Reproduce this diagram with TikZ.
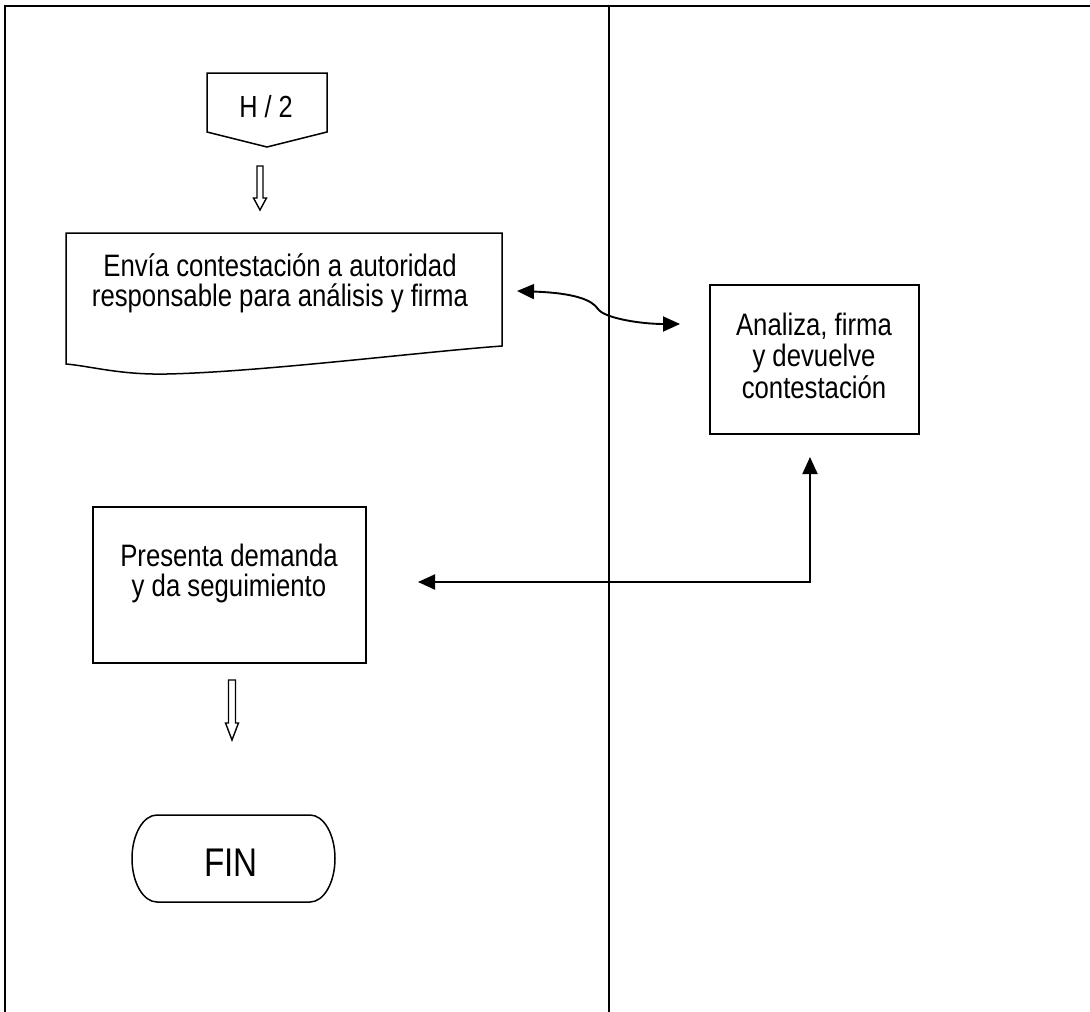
\documentclass[tikz,border=0pt]{standalone}
\usepackage{fontspec}
\setmainfont{Liberation Sans}
\newfontfamily\narrowfont[FakeStretch=0.83]{Liberation Sans}
\usetikzlibrary{arrows.meta}
\begin{document}
\begin{tikzpicture}[x=1pt,y=-1pt,
  frameline/.style={line width=2.2pt},
  boxline/.style={draw, line width=1.5pt},
  boxnode/.style={draw, line width=1.5pt, inner sep=0pt, minimum width=#1},
  txt/.style={font=\narrowfont\fontsize{31}{30}\selectfont, align=center, inner sep=0pt, anchor=base},
  conn/.style={line width=1.9pt, {Triangle[length=17pt,width=15pt]}-{Triangle[length=17pt,width=15pt]}},
  hollow/.style={draw, line width=1.4pt, fill=white}
]
\useasboundingbox (0,0) rectangle (1090,1012);
% frame
\coordinate (ftl) at (5,6);
\coordinate (ftr) at (1090,6);
\coordinate (fbl) at (5,1012);
\coordinate (mtop) at (609,6);
\coordinate (mbot) at (609,1012);
\draw[frameline] (ftr) -- (ftl) -- (fbl);
\draw[frameline] (mtop) -- (mbot);

% off-page connector H/2
\draw[boxline] (207,73) -- (327,73) -- (327,132) -- (267,147) -- (207,132) -- cycle;
\node[txt, font=\narrowfont\fontsize{30.5}{34}\selectfont] (h2) at (266,117) {H / 2};

% hollow arrow 1
\draw[hollow] (257,166) -- (263,166) -- (263,198) -- (266.5,198) -- (260,210) -- (253.5,198) -- (257,198) -- cycle;

% document shape
\draw[boxline] (66,233) -- (502,233) -- (502,346)
  .. controls (420,352) and (260,372) .. (167,374)
  .. controls (120,375) and (90,366) .. (66,364) -- cycle;
\node[txt] (doc) at (280,306) {Envía contestación a autoridad\\responsable para análisis y firma};

% right box
\node[boxnode=209pt, minimum height=149pt] (anabox) at (814.5,359.5) {};
\node[txt, font=\narrowfont\fontsize{31}{31.5}\selectfont] (ana) at (814,398) {Analiza, firma\\y devuelve\\contestación};

% presenta box
\node[boxnode=273pt, minimum height=156pt] (presbox) at (229.5,585) {};
\node[txt] (pres) at (229,596) {Presenta demanda\\y da seguimiento};

% hollow arrow 2
\draw[hollow] (228.5,680) -- (235.5,680) -- (235.5,723) -- (238.5,723) -- (232,740) -- (225.5,723) -- (228.5,723) -- cycle;

% FIN terminal
\draw[boxline] (157,815) -- (310,815) arc[start angle=-90, end angle=90, x radius=25, y radius=43.5]
  -- (157,902) arc[start angle=90, end angle=270, x radius=25, y radius=43.5] -- cycle;
\node[txt, font=\narrowfont\fontsize{40}{44}\selectfont] (fin) at (231,876) {FIN};

% connectors
\coordinate (c1) at (517,291);
\coordinate (c2) at (680,324);
\draw[conn] (c1) .. controls (575,293) and (592,300) .. (598,309)
  .. controls (604,318) and (640,324) .. (c2);
\coordinate (e1) at (418,582);
\coordinate (e2) at (810,457);
\draw[conn] (e1) -| (e2);
\end{tikzpicture}
\end{document}
